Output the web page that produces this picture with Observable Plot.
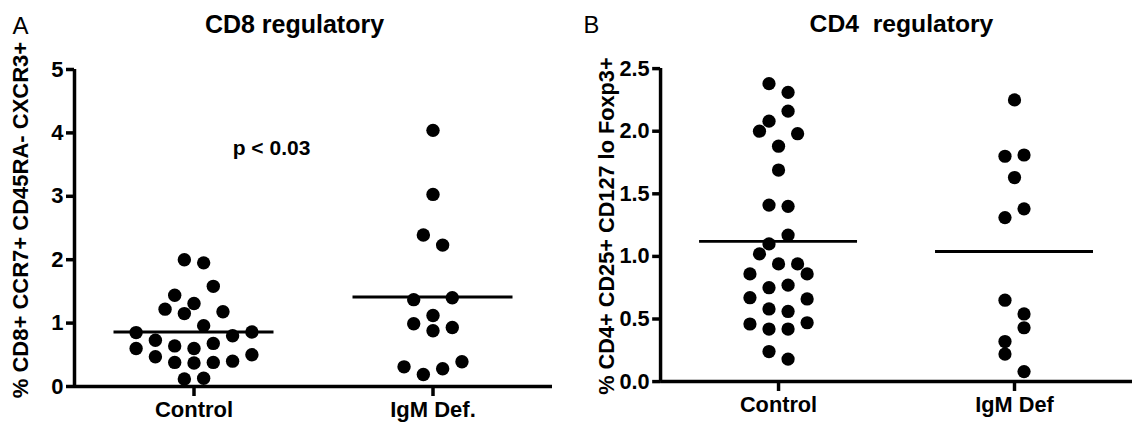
<!DOCTYPE html>
<html>
<head>
<meta charset="utf-8">
<script src="https://cdn.jsdelivr.net/npm/d3@7"></script>
<script src="https://cdn.jsdelivr.net/npm/@observablehq/plot@0.6"></script>
<style>
  html, body { margin: 0; padding: 0; background: #fff; overflow: hidden; }
  #wrap { position: relative; width: 1132px; height: 422px; overflow: hidden; }
  #panelA, #panelB { position: absolute; top: 0; }
  #panelA { left: 0; }
  #panelB { left: 587px; }
</style>
</head>
<body>
<div id="wrap"><div id="panelA"></div><div id="panelB"></div></div>
<script>
// ---------- data ----------
const cd8Groups = ["Control", "IgM Def."];
const cd8Control = [2.00, 1.95, 1.58, 1.44, 1.31, 1.22, 1.18, 1.15, 0.96, 0.86, 0.85, 0.80, 0.73,
                    0.68, 0.64, 0.60, 0.60, 0.50, 0.47, 0.40, 0.38, 0.38, 0.37, 0.13, 0.12];
const cd8IgM = [4.04, 3.03, 2.39, 2.23, 1.40, 1.37, 1.12, 0.99, 0.93, 0.88, 0.39, 0.31, 0.28, 0.19];
const cd8Means = [0.86, 1.41];
const cd8YTicks = [0, 1, 2, 3, 4, 5];
const cd8Title = "CD8 regulatory";
const cd8YLabel = "% CD8+ CCR7+ CD45RA- CXCR3+";
const cd8PValue = "p < 0.03";

const cd4Groups = ["Control", "IgM Def"];
const cd4Control = [2.38, 2.31, 2.16, 2.08, 2.00, 1.98, 1.88, 1.69, 1.41, 1.40, 1.17, 1.10, 1.02,
                    0.94, 0.94, 0.86, 0.86, 0.77, 0.75, 0.67, 0.66, 0.58, 0.56, 0.47, 0.46, 0.42,
                    0.42, 0.24, 0.18];
const cd4IgM = [2.25, 1.81, 1.80, 1.63, 1.38, 1.31, 0.65, 0.54, 0.43, 0.32, 0.22, 0.08];
const cd4Means = [1.12, 1.04];
const cd4YTicks = [0, 0.5, 1.0, 1.5, 2.0, 2.5];
const cd4Title = "CD4  regulatory";
const cd4YLabel = "% CD4+ CD25+ CD127 lo Foxp3+";

// ---------- layout constants (styling) ----------
const FONT = "'Liberation Sans', Arial, Helvetica, sans-serif";
const marginLeft = 74, marginTop = 69, marginBottom = 36, height = 422;
const plotW = 478;                  // pixel width of each plot frame
const xDomain = [0, 4];             // categories sit at 1 and 3
const pxPerX = plotW / (xDomain[1] - xDomain[0]);
const plotH = height - marginTop - marginBottom;
const R = 6.7;

// GraphPad-like scatter: rows of nearby values spread symmetrically
function swarm(values, pxPerY, rowH = 18, step = 19.3, maxRow = 7) {
  const idx = d3.range(values.length).sort((a, b) => values[b] - values[a]);
  const off = new Array(values.length).fill(0);
  let i = 0, rowNo = 0;
  while (i < idx.length) {
    const top = values[idx[i]];
    const row = [];
    while (i < idx.length && row.length < maxRow && (top - values[idx[i]]) * pxPerY < rowH) row.push(idx[i++]);
    const n = row.length;
    const slots = d3.range(n).map(k => (k - (n - 1) / 2) * step);
    const order = [];
    let lo = 0, hi = n - 1, left = rowNo % 2 === 0;
    while (lo <= hi) { order.push(left ? lo++ : hi--); left = !left; }
    row.forEach((p, k) => off[p] = slots[order[k]]);
    rowNo++;
  }
  return off;
}

function panel({groups, series, means, yMax, yTicks, tickFormat, title, titleX, letter, letterX,
                yLabel, yLabelDy, width, marginRight, extra = []}) {
  const pxPerY = plotH / yMax;
  const positions = [1, 3];
  const points = [];
  series.forEach((vals, g) => {
    const off = swarm(vals, pxPerY);
    vals.forEach((v, k) => points.push({group: groups[g], value: v, x: positions[g] + off[k] / pxPerX}));
  });
  const meanRows = means.map((m, g) => ({group: groups[g], mean: m, pos: positions[g]}));
  const half = 80 / pxPerX;
  return Plot.plot({
    width, height, marginLeft, marginRight, marginTop, marginBottom,
    style: {fontFamily: FONT, color: "#000", background: "transparent", overflow: "visible"},
    x: {domain: xDomain, axis: null},
    y: {domain: [0, yMax], axis: null},
    marks: [
      Plot.axisY({ticks: yTicks, tickFormat, label: null, tickSize: 8, tickPadding: 3, strokeWidth: 3.5,
                  fontSize: 22, fontWeight: "bold", fill: "#000", stroke: "#000"}),
      Plot.axisX({ticks: positions, tickFormat: d => groups[positions.indexOf(d)], label: null, tickSize: 10,
                  tickPadding: 5, strokeWidth: 3.5, fontSize: 22, fontWeight: "bold", fill: "#000", stroke: "#000"}),
      Plot.ruleX([0], {x: d => d, stroke: "#000", strokeWidth: 3.5}),
      Plot.ruleY([0], {y: d => d, stroke: "#000", strokeWidth: 3.5}),
      Plot.ruleY(meanRows, {y: "mean", x1: d => d.pos - half, x2: d => d.pos + half,
                            stroke: "#000", strokeWidth: 3}),
      Plot.dot(points, {x: "x", y: "value", r: R, fill: "#000", stroke: null}),
      Plot.text([title], {text: d => d, frameAnchor: "top-left", dx: titleX - marginLeft, dy: 32 - marginTop,
                          textAnchor: "middle", lineAnchor: "bottom", fontSize: 25, fontWeight: "bold", fill: "#000"}),
      Plot.text([letter], {text: d => d, frameAnchor: "top-left", dx: letterX - marginLeft, dy: 33 - marginTop,
                           textAnchor: "start", lineAnchor: "bottom", fontSize: 24, fill: "#000"}),
      Plot.text([yLabel], {text: d => d, frameAnchor: "left", dx: -54, dy: yLabelDy, rotate: -90,
                           textAnchor: "middle", lineAnchor: "middle", fontSize: 22, fontWeight: "bold", fill: "#000"}),
      ...extra
    ]
  });
}

const svgA = panel({
  groups: cd8Groups, series: [cd8Control, cd8IgM], means: cd8Means, yMax: 5, yTicks: cd8YTicks,
  tickFormat: d3.format("d"), title: cd8Title, titleX: 294, letter: "A", letterX: 12,
  yLabel: cd8YLabel, yLabelDy: -8, width: 587, marginRight: 587 - marginLeft - plotW,
  extra: [Plot.text([cd8PValue], {text: d => d, frameAnchor: "top-left", dx: 197, dy: 79,
                                  textAnchor: "middle", lineAnchor: "middle", fontSize: 21,
                                  fontWeight: "bold", fill: "#000"})]
});
document.getElementById("panelA").appendChild(svgA);

const svgB = panel({
  groups: cd4Groups, series: [cd4Control, cd4IgM], means: cd4Means, yMax: 2.5, yTicks: cd4YTicks,
  tickFormat: d3.format(".1f"), title: cd4Title, titleX: 905 - 587, letter: "B", letterX: 583 - 587,
  yLabel: cd4YLabel, yLabelDy: 1, width: 552, marginRight: 552 - marginLeft - plotW
});
document.getElementById("panelB").appendChild(svgB);
</script>
</body>
</html>
